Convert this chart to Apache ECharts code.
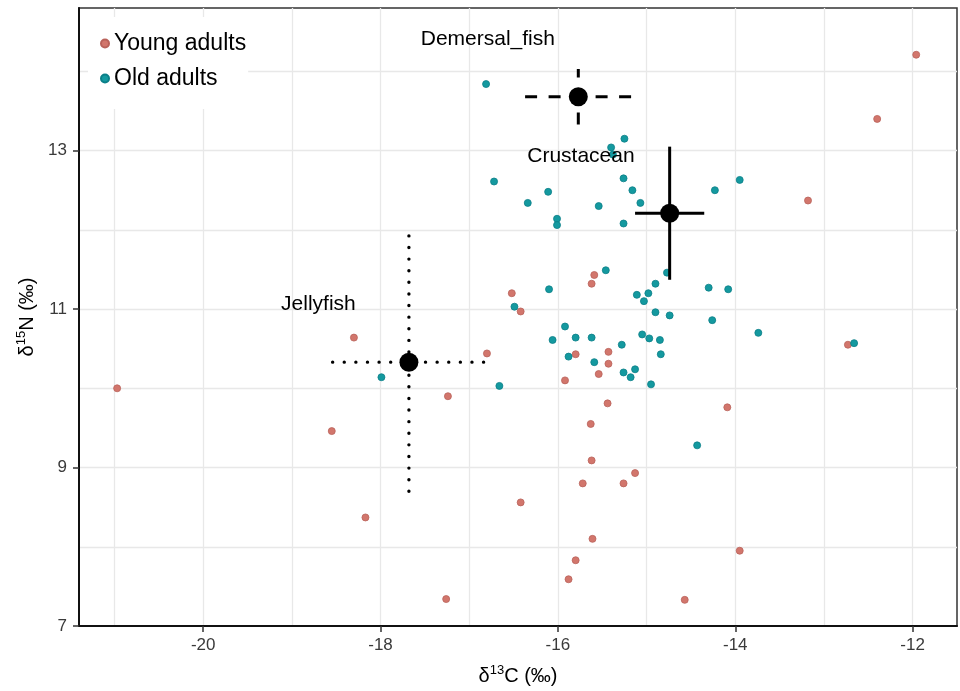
<!DOCTYPE html>
<html>
<head>
<meta charset="utf-8">
<title>d13C / d15N</title>
<script src="https://cdn.jsdelivr.net/npm/echarts@6/dist/echarts.min.js"></script>
<style>
  html, body { margin: 0; padding: 0; background: #fff; }
  #chart { width: 960px; height: 691px; }
</style>
</head>
<body>
<div id="chart"></div>
<script>
// Young adults: d13C / d15N
var youngC = [-18.30, -11.96, -12.40, -13.18, -15.59, -15.62, -16.52, -16.42, -12.73, -16.80,
              -15.80, -15.43, -15.43, -15.54, -15.92, -15.44, -14.09, -15.63, -15.62, -15.13,
              -15.72, -15.26, -16.42, -15.61, -13.95, -15.80, -15.88, -14.57, -20.97, -17.24,
              -18.55, -18.17, -17.26];
var youngN = [10.64, 14.21, 13.40, 12.37, 11.43, 11.32, 11.20, 10.97, 10.55, 10.44,
              10.43, 10.46, 10.31, 10.18, 10.10, 9.81, 9.76, 9.55, 9.09, 8.93,
              8.80, 8.80, 8.56, 8.10, 7.95, 7.83, 7.59, 7.33, 10.00, 9.90,
              9.46, 8.37, 7.34];
// Old adults: d13C / d15N
var oldC = [-16.81, -15.25, -15.40, -15.38, -16.72, -15.26, -15.16, -13.95, -14.23, -16.11,
            -16.34, -15.54, -15.07, -16.01, -16.01, -15.26, -15.46, -14.77, -14.90, -14.98,
            -15.11, -15.03, -14.30, -14.08, -16.10, -16.49, -14.90, -14.74, -14.26, -13.74,
            -12.66, -15.92, -16.06, -15.80, -15.62, -15.28, -15.05, -14.97, -14.85, -15.88,
            -14.84, -15.59, -15.26, -15.13, -15.18, -14.95, -16.66, -14.43, -17.99];
var oldN = [13.84, 13.15, 13.04, 12.95, 12.61, 12.65, 12.50, 12.63, 12.50, 12.48,
            12.34, 12.30, 12.34, 12.14, 12.06, 12.08, 11.49, 11.46, 11.32, 11.20,
            11.18, 11.10, 11.27, 11.25, 11.25, 11.03, 10.96, 10.92, 10.86, 10.70,
            10.57, 10.78, 10.61, 10.64, 10.64, 10.55, 10.68, 10.63, 10.61, 10.40,
            10.43, 10.33, 10.20, 10.24, 10.14, 10.05, 10.03, 9.28, 10.14];
// prey sources, mean +- sd
var preyNames = ['Demersal_fish', 'Crustacean', 'Jellyfish'];
var preyC = [-15.77, -14.74, -17.68];
var preyN = [13.68, 12.21, 10.33];
var preySdC = [0.60, 0.39, 0.86];
var preySdN = [0.35, 0.84, 1.63];
var preyLabelC = [-16.79, -15.74, -18.70];
var preyLabelN = [14.41, 12.93, 11.06];
// ticks and grid
var xTicks = [-20, -18, -16, -14, -12];
var yTicks = [7, 9, 11, 13];
var xGrid = [-21, -20, -19, -18, -17, -16, -15, -14, -13, -12];
var yGrid = [8, 9, 10, 11, 12, 13, 14];

function zip(a, b) {
    return a.map(function (v, i) { return [v, b[i]]; });
}

var FONT = '"Liberation Sans", Arial, sans-serif';
var dashes = [[12, 11.5], null, [0.01, 11.6]];

var chart = echarts.init(document.getElementById('chart'), null, { renderer: 'canvas' });

chart.setOption({
    animation: false,
    textStyle: { fontFamily: FONT },
    grid: {
        left: 79, right: 3, top: 8, bottom: 65,
        show: true,
        borderColor: '#333',
        borderWidth: 1.5
    },
    legend: {
        data: ['Young adults', 'Old adults'],
        orient: 'vertical',
        left: 88, top: 17,
        z: 10,
        padding: [15, 2, 19, 12],
        backgroundColor: '#fff',
        icon: 'circle',
        itemWidth: 8, itemHeight: 8,
        itemGap: 12,
        textStyle: { fontSize: 23, color: '#000', fontFamily: FONT }
    },
    xAxis: {
        type: 'value',
        min: -21.4, max: -11.5,
        name: '{t|δ}{s|13}{t|C (‰)}',
        nameLocation: 'middle',
        nameGap: 38,
        nameTextStyle: {
            rich: {
                t: { fontSize: 20, color: '#000', fontFamily: FONT, lineHeight: 24 },
                s: { fontSize: 13, color: '#000', fontFamily: FONT, lineHeight: 13, verticalAlign: 'top' }
            }
        },
        axisLine: { show: true, lineStyle: { color: '#111', width: 2 } },
        axisTick: { show: true, length: 6, customValues: xTicks, lineStyle: { color: '#333', width: 1.5 } },
        axisLabel: { customValues: xTicks, fontSize: 17, color: '#3a3a3a', margin: 11 },
        splitLine: { show: false }
    },
    yAxis: {
        type: 'value',
        min: 7, max: 14.8,
        name: '{t|δ}{s|15}{t|N (‰)}',
        nameLocation: 'middle',
        nameRotate: 90,
        nameGap: 40,
        nameTextStyle: {
            rich: {
                t: { fontSize: 20, color: '#000', fontFamily: FONT, lineHeight: 24 },
                s: { fontSize: 13, color: '#000', fontFamily: FONT, lineHeight: 13, verticalAlign: 'top' }
            }
        },
        axisLine: { show: true, lineStyle: { color: '#111', width: 2 } },
        axisTick: { show: true, length: 6, customValues: yTicks, lineStyle: { color: '#333', width: 1.5 } },
        axisLabel: { customValues: yTicks, fontSize: 17, color: '#3a3a3a', margin: 12 },
        splitLine: { show: false }
    },
    series: [
        {
            // panel grid lines
            name: 'grid',
            type: 'scatter',
            data: [],
            z: 0,
            silent: true,
            markLine: {
                z: 0,
                silent: true,
                animation: false,
                symbol: ['none', 'none'],
                label: { show: false },
                emphasis: { disabled: true },
                lineStyle: { color: '#e8e8e8', type: 'solid', width: 1.3 },
                data: xGrid.map(function (v) { return { xAxis: v }; })
                    .concat(yGrid.map(function (v) { return { yAxis: v }; }))
            }
        },
        {
            name: 'Young adults',
            type: 'scatter',
            symbolSize: 7,
            z: 2,
            itemStyle: { color: '#d2766c', borderColor: '#b9625a', borderWidth: 0.8, opacity: 1 },
            data: zip(youngC, youngN)
        },
        {
            name: 'Old adults',
            type: 'scatter',
            symbolSize: 7,
            z: 3,
            itemStyle: { color: '#14999f', borderColor: '#0b7f88', borderWidth: 0.8, opacity: 1 },
            data: zip(oldC, oldN)
        },
        {
            // error bars for prey sources
            name: 'sd',
            type: 'custom',
            z: 4,
            silent: true,
            data: preyC.map(function (c, i) { return [c, preyN[i], preySdC[i], preySdN[i], i]; }),
            encode: { x: 0, y: 1 },
            renderItem: function (params, api) {
                var x = api.value(0), y = api.value(1);
                var sx = api.value(2), sy = api.value(3);
                var dash = dashes[api.value(4)];
                var l = api.coord([x - sx, y]), r = api.coord([x + sx, y]);
                var b = api.coord([x, y - sy]), t = api.coord([x, y + sy]);
                var style = {
                    stroke: '#000',
                    lineWidth: dash && dash[0] < 1 ? 3.4 : 3,
                    lineDash: dash,
                    lineCap: dash && dash[0] < 1 ? 'round' : 'butt',
                    fill: null
                };
                return {
                    type: 'group',
                    children: [
                        { type: 'line', shape: { x1: l[0], y1: l[1], x2: r[0], y2: r[1] }, style: style },
                        { type: 'line', shape: { x1: b[0], y1: b[1], x2: t[0], y2: t[1] }, style: style }
                    ]
                };
            }
        },
        {
            name: 'mean',
            type: 'scatter',
            z: 5,
            symbol: 'circle',
            symbolSize: 19,
            itemStyle: { color: '#000', opacity: 1 },
            data: zip(preyC, preyN)
        },
        {
            name: 'labels',
            type: 'scatter',
            z: 6,
            symbolSize: 1,
            itemStyle: { color: 'transparent', opacity: 1 },
            label: {
                show: true,
                position: 'inside',
                fontSize: 21,
                color: '#000',
                opacity: 1,
                fontFamily: FONT,
                formatter: function (p) { return preyNames[p.dataIndex]; }
            },
            data: zip(preyLabelC, preyLabelN)
        }
    ]
});
</script>
</body>
</html>
